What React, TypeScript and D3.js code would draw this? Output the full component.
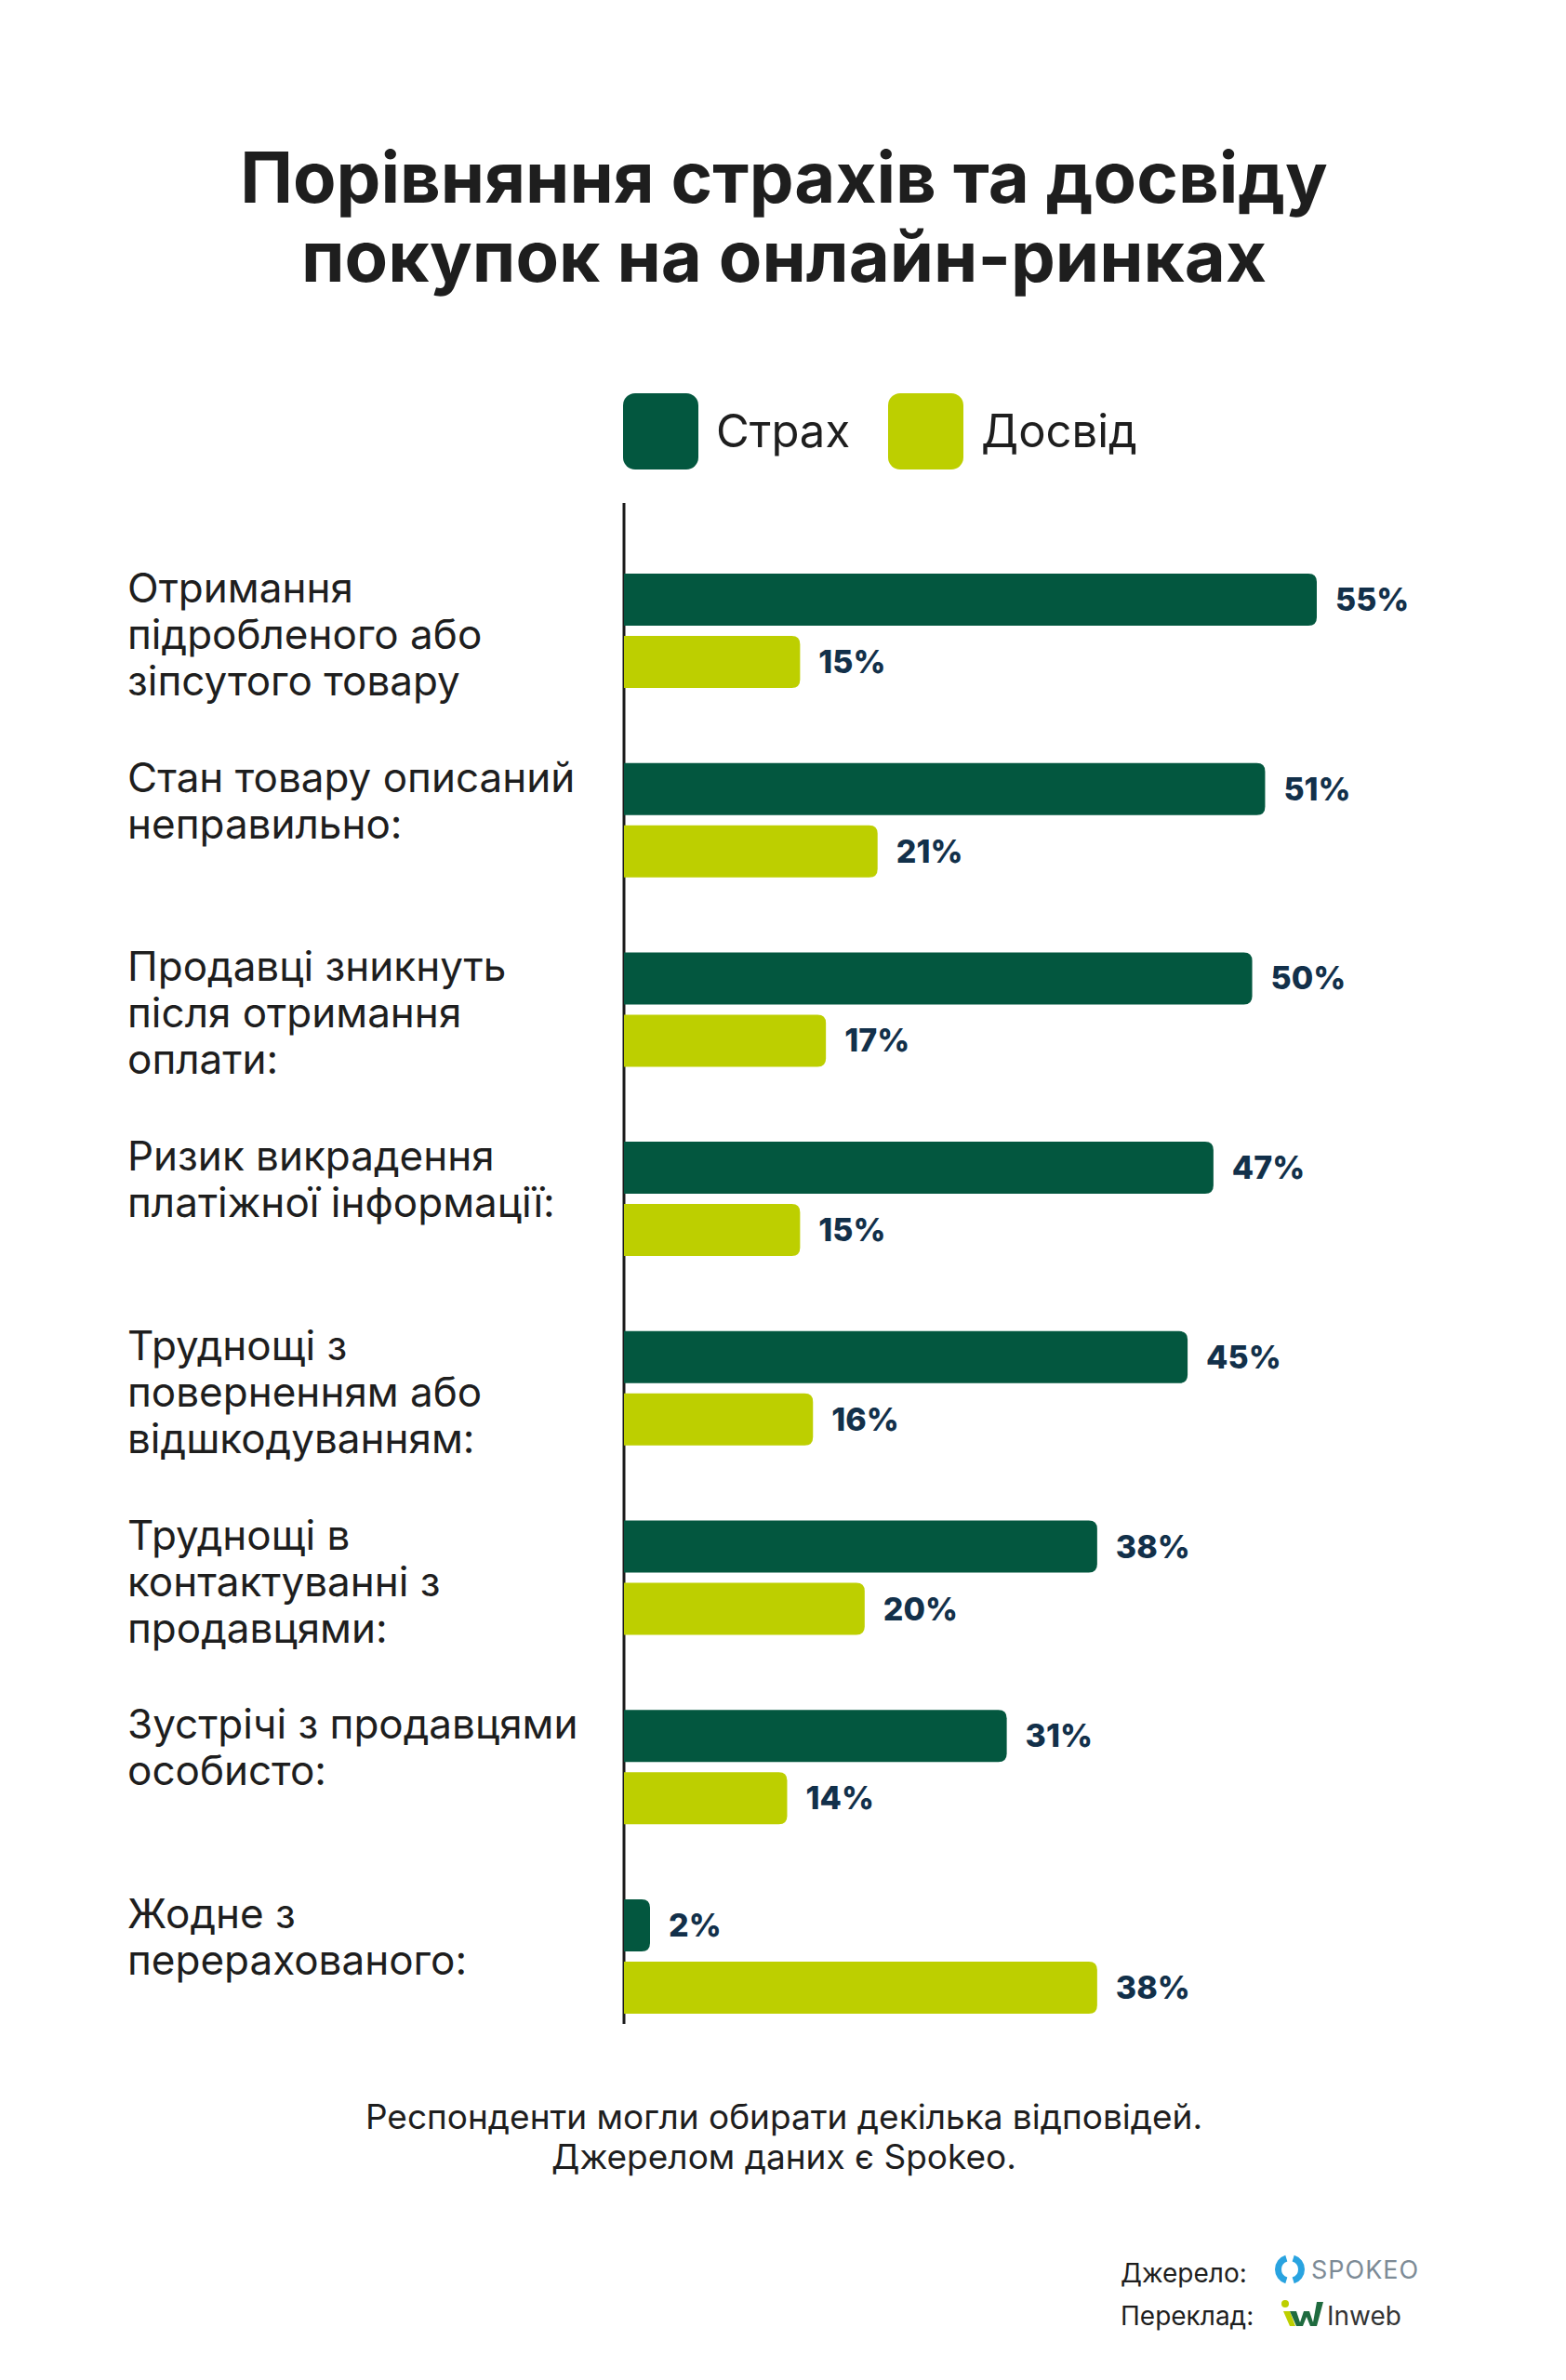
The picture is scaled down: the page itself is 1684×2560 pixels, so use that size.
import React from 'react';
import * as d3 from 'd3';

const categories: string[][] = [
  ['Отримання', 'підробленого або', 'зіпсутого товару'],
  ['Стан товару описаний', 'неправильно:'],
  ['Продавці зникнуть', 'після отримання', 'оплати:'],
  ['Ризик викрадення', 'платіжної інформації:'],
  ['Труднощі з', 'поверненням або', 'відшкодуванням:'],
  ['Труднощі в', 'контактуванні з', 'продавцями:'],
  ['Зустрічі з продавцями', 'особисто:'],
  ['Жодне з', 'перерахованого:'],
];
const fearValues = [55, 51, 50, 47, 45, 38, 31, 2];
const experienceValues = [15, 21, 17, 15, 16, 20, 14, 38];
const seriesNames = ['Страх', 'Досвід'];
const titleLines = ['Порівняння страхів та досвіду', 'покупок на онлайн-ринках'];
const noteLines = ['Респонденти могли обирати декілька відповідей.', 'Джерелом даних є Spokeo.'];

const W = 1684;
const H = 2560;
const DARK = '#03573f';
const LIGHT = '#bdcf00';
const LABEL = '#12304a';
const TEXT = '#1e1e1e';
const FONT = 'Inter, "Open Sans", sans-serif';

// bar with rounded right end only
const barPath = (x0: number, x1: number, y: number, h: number, r: number) => {
  const rr = Math.min(r, (x1 - x0) / 2, h / 2);
  return `M${x0},${y}H${x1 - rr}Q${x1},${y} ${x1},${y + rr}V${y + h - rr}Q${x1},${y + h} ${x1 - rr},${y + h}H${x0}Z`;
};

export default function App() {
  const axisX = 671;
  // zero of the scale sits just behind the axis line, as in the original
  const x = d3.scaleLinear().domain([0, 55]).range([652, 1416]);
  const barEnd = (v: number) => Math.max(x(v), axisX + 28);
  const y = d3.scaleBand<number>()
    .domain(d3.range(categories.length))
    .range([617, 617 + 203.7 * categories.length]);
  const barH = 56;
  const gap = 11;

  const ringArc = d3.arc<any>().innerRadius(9).outerRadius(16);

  return (
    <div style={{ position: 'absolute', left: 0, top: 0, width: W, height: H, background: '#fff' }}>
      <svg width={W} height={H} viewBox={`0 0 ${W} ${H}`} style={{ display: 'block' }}>
        <rect width={W} height={H} fill="#fff" />

        {/* title */}
        {titleLines.map((t, i) => (
          <text key={t} x={843} y={218 + i * 85} textAnchor="middle" fontFamily={FONT}
            fontWeight={700} fontSize={76} fill={TEXT}>{t}</text>
        ))}

        {/* legend */}
        {seriesNames.map((name, i) => {
          const lx = [670, 955][i];
          return (
            <g key={name}>
              <rect x={lx} y={423} width={81} height={82} rx={13} fill={i === 0 ? DARK : LIGHT} />
              <text x={lx + 100} y={481} fontFamily={FONT} fontSize={49} fill={TEXT}>{name}</text>
            </g>
          );
        })}

        {/* axis */}
        <line x1={axisX} x2={axisX} y1={541} y2={2177} stroke="#1a1a1a" strokeWidth={3} />

        {categories.map((lines, i) => {
          const top = y(i) as number;
          return (
            <g key={i}>
              {lines.map((ln, j) => (
                <text key={j} x={137} y={top + 31 + j * 50} fontFamily={FONT} fontSize={44}
                  fontWeight={400} fill={TEXT}>{ln}</text>
              ))}
              <path d={barPath(axisX, barEnd(fearValues[i]), top, barH, 9)} fill={DARK} />
              <text x={barEnd(fearValues[i]) + 20} y={top + barH / 2 + 12} fontFamily={FONT}
                fontWeight={800} fontSize={34} fill={LABEL}>{fearValues[i]}%</text>
              <path d={barPath(axisX, barEnd(experienceValues[i]), top + barH + gap, barH, 9)} fill={LIGHT} />
              <text x={barEnd(experienceValues[i]) + 20} y={top + barH + gap + barH / 2 + 12} fontFamily={FONT}
                fontWeight={800} fontSize={34} fill={LABEL}>{experienceValues[i]}%</text>
            </g>
          );
        })}

        {/* note */}
        {noteLines.map((t, i) => (
          <text key={t} x={843} y={2290 + i * 43} textAnchor="middle" fontFamily={FONT}
            fontSize={37} fill={TEXT}>{t}</text>
        ))}

        {/* credits */}
        <text x={1205} y={2455} fontFamily={FONT} fontSize={28} fill={TEXT}>Джерело:</text>
        <text x={1205} y={2501} fontFamily={FONT} fontSize={28} fill={TEXT}>Переклад:</text>

        <g transform="translate(1387,2441)">
          <path d={ringArc({ startAngle: 0.3, endAngle: Math.PI - 0.3 }) || ''} fill="#29a3e0" />
          <path d={ringArc({ startAngle: Math.PI + 0.3, endAngle: 2 * Math.PI - 0.3 }) || ''} fill="#29a3e0" />
        </g>
        <text x={1410} y={2451} fontFamily={FONT} fontSize={27} fill="#7d8b96" letterSpacing={1}>SPOKEO</text>

        <g transform="translate(1378,2474)">
          <circle cx={4} cy={4} r={4} fill={LIGHT} />
          <path d="M2,12 L9,12 L15,28 L9,28 Z" fill={LIGHT} />
          <path d="M9,12 L16,12 L20,24 L24,12 L30,12 L34,24 L38,2 L45,2 L38,28 L31,28 L27,18 L23,28 L16,28 Z" fill="#1f6b3f" />
        </g>
        <text x={1427} y={2501} fontFamily={FONT} fontSize={28} fill="#333">Inweb</text>
      </svg>
    </div>
  );
}
